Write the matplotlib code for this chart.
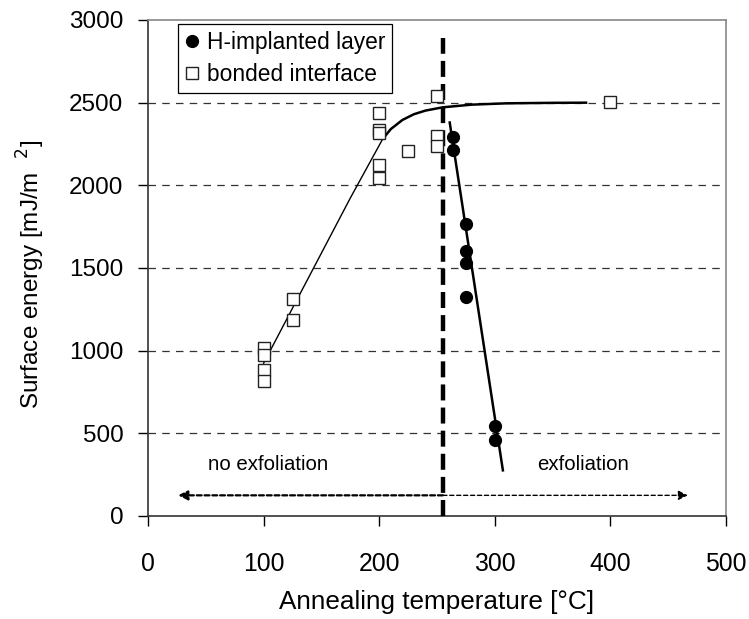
import matplotlib
matplotlib.use("Agg")
import matplotlib.pyplot as plt

plt.rcParams['font.family'] = ['Liberation Sans', 'DejaVu Sans']

# bonded interface (open squares)
bond_x = [100, 100, 100, 100, 125, 125, 200, 200, 200, 200, 200, 225, 250, 250, 250, 400]
bond_y = [1015, 975, 885, 815, 1315, 1185, 2435, 2335, 2315, 2125, 2045, 2205, 2540, 2300, 2235, 2505]

# H-implanted layer (filled circles)
h_x = [264, 264, 275, 275, 275, 275, 300, 300]
h_y = [2295, 2215, 1767, 1600, 1533, 1327, 547, 458]

# guide curve for bonded interface
fit1_x = [100, 125, 150, 175, 203]
fit1_y = [924, 1257, 1590, 1923, 2280]
fit2_x = [203, 210, 220, 230, 240, 255, 280, 310, 350, 380]
fit2_y = [2280, 2340, 2395, 2430, 2452, 2472, 2488, 2496, 2499, 2500]

# guide line for H-implanted layer
fitH_x = [261, 307]
fitH_y = [2380, 276]

# exfoliation threshold
thr_x = 255
thr_top = 2890
arrow_y = 125
arrow_left = 26
arrow_right = 467

fig = plt.figure(figsize=(7.49, 6.19), dpi=100)
ax = fig.add_axes([148/749, 1-516/619, (726-148)/749, (516-20)/619])

ax.set_xlim(0, 500)
ax.set_ylim(0, 3000)

for yv in [500, 1000, 1500, 2000, 2500]:
    ax.axhline(yv, color='#333333', lw=0.9, ls=(0, (6, 5)), zorder=1)

ax.plot(fit1_x, fit1_y, color='black', lw=1.0, zorder=2)
ax.plot(fit2_x, fit2_y, color='black', lw=1.8, zorder=2, solid_capstyle='butt')
ax.plot(fitH_x, fitH_y, color='black', lw=1.8, zorder=2)

ax.plot([thr_x, thr_x], [0, thr_top], color='black', lw=3.2, ls=(0, (3.6, 1.6)), zorder=3)

ax.annotate('', xy=(arrow_left, arrow_y), xytext=(thr_x, arrow_y),
            arrowprops=dict(arrowstyle='-|>', color='black', lw=1.6, ls=(0, (2.2, 1.3)),
                            mutation_scale=14, shrinkA=0, shrinkB=0))
ax.annotate('', xy=(arrow_right, arrow_y), xytext=(thr_x, arrow_y),
            arrowprops=dict(arrowstyle='-|>', color='black', lw=1.0, ls=(0, (3, 2)),
                            mutation_scale=14, shrinkA=0, shrinkB=0))

ax.text(104, 310, 'no exfoliation', ha='center', va='center', fontsize=14.7)
ax.text(376, 310, 'exfoliation', ha='center', va='center', fontsize=14.7)

ax.plot(h_x, h_y, 'o', color='black', ms=8.5, ls='none', zorder=5, label='H-implanted layer')
ax.plot(bond_x, bond_y, 's', mfc='white', mec='#222222', mew=1.0, ms=8.5, ls='none', zorder=4,
        label='bonded interface')

leg = ax.legend(loc='upper left', bbox_to_anchor=(0.052, 0.991), fontsize=16.4,
                frameon=True, fancybox=False, edgecolor='black', framealpha=1,
                handlelength=0.6, handletextpad=0.35, borderpad=0.3, labelspacing=0.4,
                borderaxespad=0)
leg.get_frame().set_linewidth(0.9)

ax.set_xticks([0, 100, 200, 300, 400, 500])
ax.set_yticks([0, 500, 1000, 1500, 2000, 2500, 3000])
ax.tick_params(axis='both', direction='out', length=7.2, width=1)
ax.tick_params(axis='y', labelsize=17.5, pad=10.5)
ax.tick_params(axis='x', labelsize=17.8, pad=19)

for s in ['top', 'right']:
    ax.spines[s].set_color('#888888')
    ax.spines[s].set_linewidth(1.2)
for s in ['left', 'bottom']:
    ax.spines[s].set_color('#333333')
    ax.spines[s].set_linewidth(1.2)

ax.set_xlabel('Annealing temperature [°C]', fontsize=18.8, labelpad=10)
ax.set_ylabel('Surface energy [mJ/m  $^{2}$]', fontsize=17.5)
ax.yaxis.set_label_coords((47-148)/578, 0.488)

fig.savefig('out.png', dpi=100)
